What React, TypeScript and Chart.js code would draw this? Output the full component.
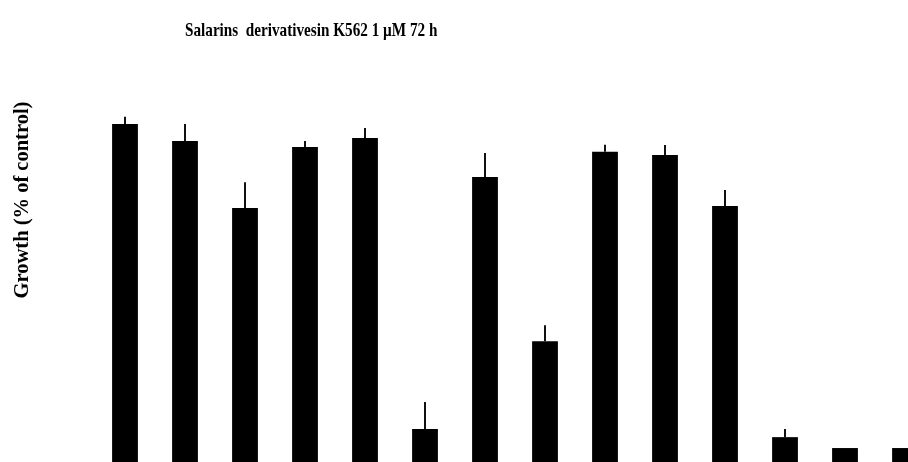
import React, { useEffect, useRef } from "react";
import { Chart, registerables } from "chart.js";

Chart.register(...registerables);

// Salarin derivatives tested in K562 cells, 1 µM, 72 h
const compounds = ["1", "2", "3", "4", "5", "6", "7", "8", "9", "10", "11", "12", "13", "14"];
const growth = [101.8, 96.8, 77.1, 95.0, 97.7, 12.2, 86.2, 38.0, 93.6, 92.7, 77.7, 9.8, 6.6, 6.6];
const growthSd = [2.1, 5.0, 7.6, 1.8, 2.9, 7.9, 7.1, 4.7, 2.1, 2.9, 4.7, 2.4, 0, 0];

const titleText = "Salarins  derivativesin K562 1 \u00b5M 72 h";
const yLabelText = "Growth (% of control)";

const errorBars = {
  id: "errorBars",
  afterDatasetsDraw(chart: any) {
    const ctx = chart.ctx;
    const meta = chart.getDatasetMeta(0);
    const y = chart.scales.y;
    ctx.save();
    ctx.strokeStyle = "#111";
    ctx.lineWidth = 2;
    meta.data.forEach((bar: any, i: number) => {
      const sd = growthSd[i];
      if (!sd) return;
      const top = y.getPixelForValue(growth[i] + sd);
      ctx.beginPath();
      ctx.moveTo(bar.x, bar.y);
      ctx.lineTo(bar.x, top);
      ctx.stroke();
    });
    ctx.restore();
  },
};

// Title and axis caption in a condensed bold serif
const textLabels = {
  id: "textLabels",
  afterDraw(chart: any) {
    const ctx = chart.ctx;
    ctx.save();
    ctx.fillStyle = "#000";
    ctx.font = "bold 19px 'Liberation Serif', 'Times New Roman', serif";
    ctx.textAlign = "left";
    ctx.textBaseline = "alphabetic";
    ctx.translate(185, 36);
    ctx.scale(0.8, 1);
    ctx.fillText(titleText, 0, 0);
    ctx.restore();

    ctx.save();
    ctx.fillStyle = "#000";
    ctx.translate(23, 200);
    ctx.rotate(-Math.PI / 2);
    ctx.font = "bold 20.5px 'Liberation Serif', 'Times New Roman', serif";
    ctx.textAlign = "center";
    ctx.textBaseline = "middle";
    ctx.fillText(yLabelText, 0, 0);
    ctx.restore();
  },
};

export default function App() {
  const canvasRef = useRef<HTMLCanvasElement | null>(null);

  useEffect(() => {
    if (!canvasRef.current) return;
    const chart = new Chart(canvasRef.current, {
      type: "bar",
      data: {
        labels: compounds,
        datasets: [
          {
            data: growth,
            backgroundColor: "#000",
            borderWidth: 0,
            barPercentage: 0.43,
            categoryPercentage: 1,
          },
        ],
      },
      options: {
        animation: false,
        responsive: false,
        maintainAspectRatio: false,
        layout: { padding: { left: 95, right: 25, top: 62, bottom: 0 } },
        plugins: {
          legend: { display: false },
          title: { display: false },
          tooltip: { enabled: false },
        },
        scales: {
          x: { display: false },
          y: { display: false, min: 2.5, max: 120 },
        },
      },
      plugins: [errorBars, textLabels],
    });
    return () => chart.destroy();
  }, []);

  return (
    <div
      style={{
        position: "fixed",
        top: 0,
        left: 0,
        width: 908,
        height: 462,
        overflow: "hidden",
        background: "#fff",
      }}
    >
      <canvas ref={canvasRef} width={960} height={462} style={{ width: 960, height: 462, display: "block" }} />
    </div>
  );
}
